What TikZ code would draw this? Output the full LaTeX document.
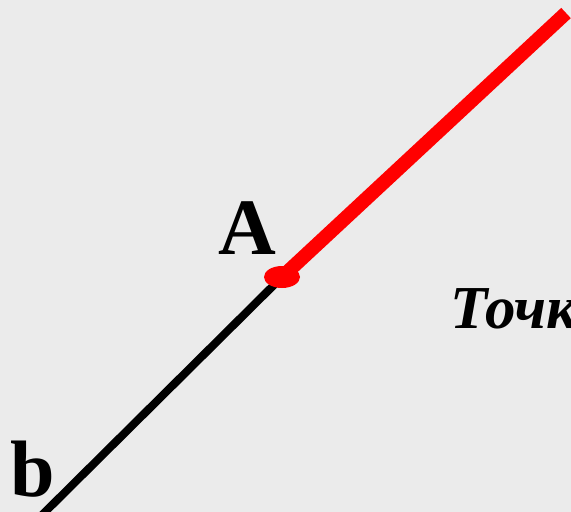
\documentclass[tikz,border=0pt]{standalone}
\usepackage{fontspec}
\setmainfont{Liberation Serif}
\usetikzlibrary{positioning}

\begin{document}
\begin{tikzpicture}[
    x=1pt,y=-1pt,
    lbl/.style={inner sep=0pt,anchor=base west,font=\fontsize{80}{80}\selectfont\bfseries},
    note/.style={inner sep=0pt,anchor=base west,font=\fontsize{61}{61}\selectfont\bfseries\itshape},
    ray/.style={line width=14pt,red,line cap=butt},
    seg/.style={line width=8pt,black}
  ]
    \fill[gray!16] (0,0) rectangle (571,512);
    \useasboundingbox (0,0) rectangle (571,512);
    \clip (0,0) rectangle (571,512);
    \coordinate (ptA) at (282,277);
    \coordinate (rayend) at (566,13);
    \coordinate (segend) at (42,515);
    \draw[seg] (ptA) -- (segend);
    \draw[ray] (ptA) -- (rayend);
    \fill[red] (ptA) ellipse [x radius=18,y radius=11];
    \node[lbl] (labA) at (218,254) {A};
    \node[lbl] (labb) at (10,496) {b};
    \node[note] (tochka) at (450,328) {Точк};
  \end{tikzpicture}
\end{document}
